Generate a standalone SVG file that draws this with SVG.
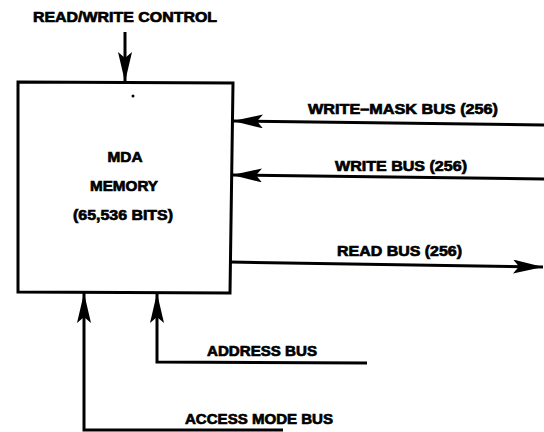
<svg xmlns="http://www.w3.org/2000/svg" width="544" height="432" viewBox="0 0 544 432">
<style>
.t{font-family:"Liberation Sans",Arial,sans-serif;font-weight:bold;font-size:15px;fill:#000;stroke:#000;stroke-width:0.7px}
.c{text-anchor:middle}
.ln{fill:none;stroke:#000;stroke-width:3;stroke-linejoin:miter}
</style>
<defs>
<marker id="ah" markerUnits="userSpaceOnUse" markerWidth="32" markerHeight="16" refX="30" refY="7" orient="auto">
<path d="M0,0 L30,7 L0,14 L6,7 Z" fill="#000"/>
</marker>
</defs>
<rect width="544" height="432" fill="#fff"/>
<g id="memory">
<path class="ln" d="M18,82 L233,83 L230,293 L18,292 Z"/>
<circle cx="133" cy="96" r="1.5" fill="#000"/>
<text class="t c" x="125" y="162" textLength="35" lengthAdjust="spacingAndGlyphs">MDA</text>
<text class="t c" x="124" y="191" textLength="68" lengthAdjust="spacingAndGlyphs">MEMORY</text>
<text class="t c" x="123" y="220" textLength="100" lengthAdjust="spacingAndGlyphs">(65,536 BITS)</text>
</g>
<g id="labels">
<text class="t" x="33" y="22" textLength="184" lengthAdjust="spacingAndGlyphs">READ/WRITE CONTROL</text>
<text class="t" x="308" y="114" textLength="190" lengthAdjust="spacingAndGlyphs">WRITE–MASK BUS (256)</text>
<text class="t" x="335" y="171" textLength="132" lengthAdjust="spacingAndGlyphs">WRITE BUS (256)</text>
<text class="t" x="337" y="256" textLength="125" lengthAdjust="spacingAndGlyphs">READ BUS (256)</text>
<text class="t" x="207" y="356" textLength="110" lengthAdjust="spacingAndGlyphs">ADDRESS BUS</text>
<text class="t" x="185" y="424" textLength="148" lengthAdjust="spacingAndGlyphs">ACCESS MODE BUS</text>
</g>
<g id="connectors">
<path class="ln" d="M125,32 L125,82" marker-end="url(#ah)"/>
<path class="ln" d="M544,125 L233,121" marker-end="url(#ah)"/>
<path class="ln" d="M544,179 L232,175" marker-end="url(#ah)"/>
<path class="ln" d="M230,262 L543,267" marker-end="url(#ah)"/>
<path class="ln" d="M367,363 L157,362 L157,293" marker-end="url(#ah)"/>
<path class="ln" d="M283,430 L84,430 L84,293" marker-end="url(#ah)"/>
</g>
</svg>
